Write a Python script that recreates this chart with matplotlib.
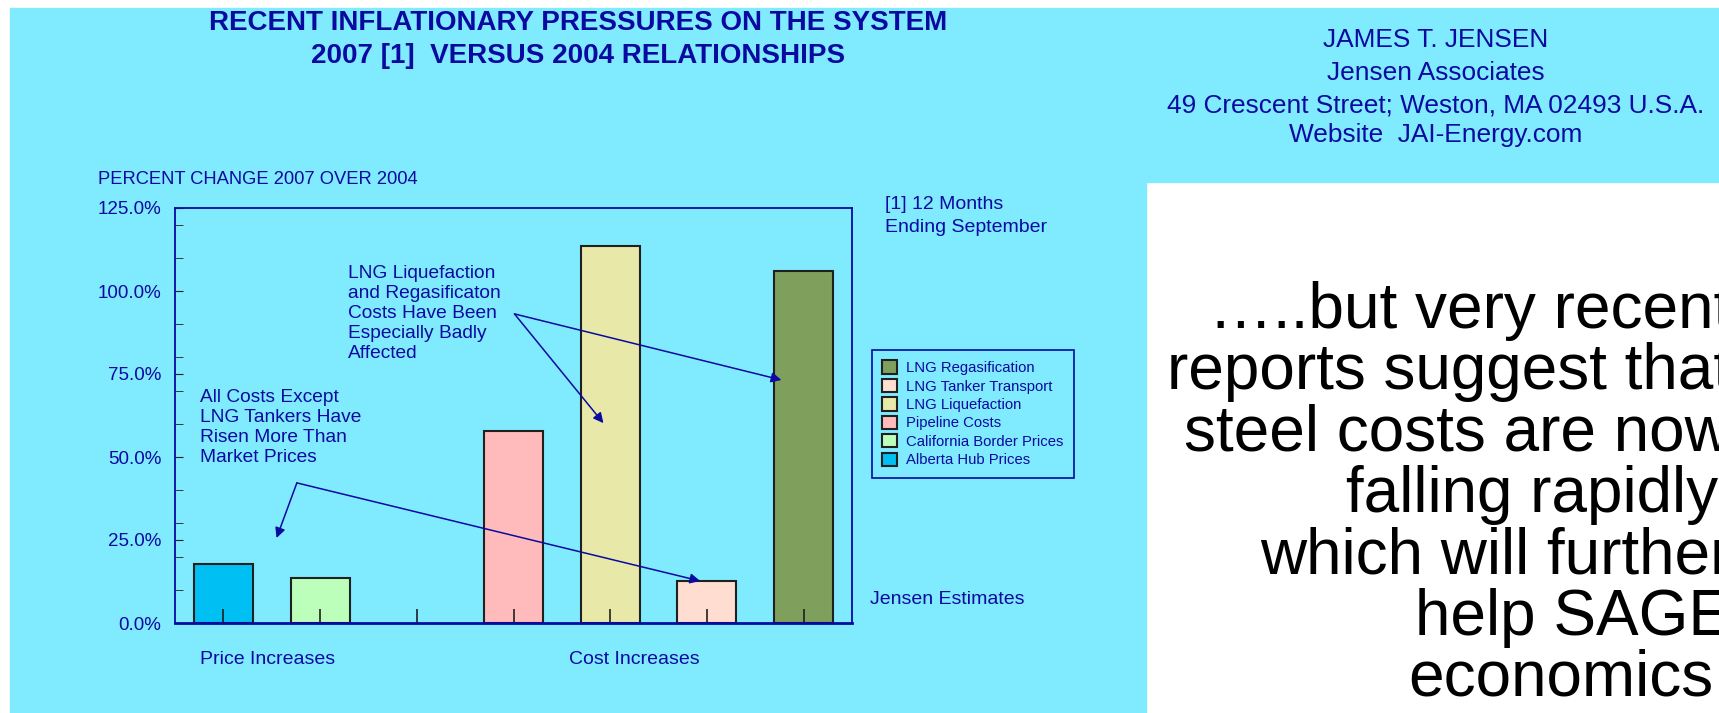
import numpy as np
import matplotlib
matplotlib.use("Agg")
import matplotlib.pyplot as plt
from matplotlib.patches import Rectangle
from matplotlib.ticker import MultipleLocator, FuncFormatter

plt.rcParams['font.family'] = ['Liberation Sans', 'DejaVu Sans']

# Données
categories = ['Alberta Hub Prices', 'California Border Prices', '', 'Pipeline Costs',
              'LNG Liquefaction', 'LNG Tanker Transport', 'LNG Regasification']
values = [17.8, 13.6, 0.0, 57.9, 113.7, 12.8, 105.9]
colors = ['#00BFF3', '#BBFFBB', 'none', '#FFBBBB', '#E8E8A8', '#FFDDD0', '#7FA05D']
group_labels = ['Price Increases', 'Cost Increases']

navy = '#0A0AA0'
cyan = '#80EAFF'

fig = plt.figure(figsize=(17.19, 7.13), dpi=100)
fig.patch.set_facecolor('white')
W, H = 1719, 713

# Fonds (blocs cyan)
fig.patches.append(Rectangle((10 / W, 0), (1146 - 10) / W, (713 - 8) / H,
                             transform=fig.transFigure, color=cyan, zorder=-5))
fig.patches.append(Rectangle((1146 / W, 1 - 182 / H), (W - 1146) / W, (182 - 8) / H,
                             transform=fig.transFigure, color=cyan, zorder=-5))

# Axes du graphique
ax = fig.add_axes([175 / W, 1 - 623 / H, (852 - 175) / W, (623 - 208) / H])
ax.set_zorder(2)
ax.set_facecolor(cyan)
ax.set_axisbelow(False)
x = np.arange(len(categories))
for i in range(len(categories)):
    if values[i] > 0:
        ax.bar(x[i], values[i], width=0.61, color=colors[i], edgecolor='#202020',
               linewidth=1.5, label=categories[i], zorder=2)

ax.set_xlim(-0.5, len(categories) - 0.5)
ax.set_ylim(0, 125)
ax.yaxis.set_major_locator(MultipleLocator(25))
ax.yaxis.set_minor_locator(MultipleLocator(10))
ax.yaxis.set_major_formatter(FuncFormatter(lambda v, p: f'{v:.1f}%'))
ax.tick_params(axis='y', which='both', direction='in', colors='#202020',
               labelcolor=navy, labelsize=13.5, length=6, pad=10)
ax.set_xticks(x)
ax.set_xticklabels([])
ax.tick_params(axis='x', direction='in', length=10, colors='#202020', width=1.2)
for s in ax.spines.values():
    s.set_color(navy)
    s.set_linewidth(1.3)
    s.set_zorder(4)
ax.spines['bottom'].set_linewidth(2)

# Légende (ordre inversé)
h, l = ax.get_legend_handles_labels()
leg = ax.legend(h[::-1], l[::-1], loc='upper left', bbox_to_anchor=(1.029, 0.658),
                borderaxespad=0, fontsize=10.7, frameon=True, fancybox=False,
                edgecolor=navy, facecolor=cyan, framealpha=1, handlelength=1.0,
                handleheight=1.0, handletextpad=0.6, labelspacing=0.25, borderpad=0.7)
leg.get_frame().set_linewidth(1.2)
for txt in leg.get_texts():
    txt.set_color(navy)

# Annotations
arr = dict(arrowstyle='-|>', color=navy, lw=1.1, mutation_scale=15, shrinkA=0, shrinkB=0)
ax.text(1.29, 107.8, "LNG Liquefaction\nand Regasificaton\nCosts Have Been\nEspecially Badly\nAffected",
        fontsize=13.8, color=navy, va='top', ha='left', linespacing=1.23)
ax.annotate('', xy=(3.93, 60.2), xytext=(3.01, 93.1), arrowprops=arr)
ax.annotate('', xy=(5.77, 73.2), xytext=(3.01, 93.1), arrowprops=arr)

ax.text(-0.24, 70.6, "All Costs Except\nLNG Tankers Have\nRisen More Than\nMarket Prices",
        fontsize=13.8, color=navy, va='top', ha='left', linespacing=1.23)
ax.annotate('', xy=(0.55, 25.6), xytext=(0.76, 42.2), arrowprops=arr)
ax.annotate('', xy=(4.93, 12.65), xytext=(0.76, 42.2), arrowprops=arr)

# Titres et textes
fig.text(578 / W, 1 - 23 / H, "RECENT INFLATIONARY PRESSURES ON THE SYSTEM",
         fontsize=20, fontweight='bold', color=navy, ha='center', va='center')
fig.text(578 / W, 1 - 56 / H, "2007 [1]  VERSUS 2004 RELATIONSHIPS",
         fontsize=20, fontweight='bold', color=navy, ha='center', va='center')
fig.text(98 / W, 1 - 180 / H, "PERCENT CHANGE 2007 OVER 2004",
         fontsize=13.2, color=navy, ha='left', va='center')
fig.text(885 / W, 1 - 216 / H, "[1] 12 Months\nEnding September",
         fontsize=14, color=navy, ha='left', va='center', linespacing=1.45)
fig.text(870 / W, 1 - 599 / H, "Jensen Estimates",
         fontsize=14, color=navy, ha='left', va='center')
fig.text(200 / W, 1 - 660 / H, group_labels[0], fontsize=14, color=navy, ha='left', va='center')
fig.text(569 / W, 1 - 660 / H, group_labels[1], fontsize=14, color=navy, ha='left', va='center')

adresse = ["JAMES T. JENSEN", "Jensen Associates",
           "49 Crescent Street; Weston, MA 02493 U.S.A.", "Website  JAI-Energy.com"]
for k, y in enumerate([40, 73, 105, 135]):
    fig.text(1436 / W, 1 - y / H, adresse[k], fontsize=18.9, color=navy, ha='center', va='center')

message = ["\u2026..but very recent", "reports suggest that", "steel costs are now",
           "falling rapidly,", "which will further", "help SAGE", "economics."]
for k, line in enumerate(message):
    fig.text(1731 / W, 1 - (328 + 61.3 * k) / H, line, fontsize=46, color='black',
             ha='right', va='baseline')

fig.savefig('out.png', dpi=100, facecolor=fig.get_facecolor())
